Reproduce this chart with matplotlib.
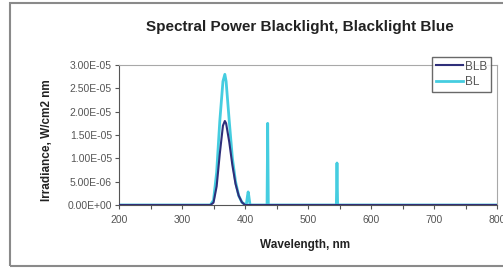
import matplotlib
matplotlib.use("Agg")
from matplotlib import pyplot as plt
from matplotlib.patches import Rectangle
from matplotlib.ticker import FuncFormatter, MultipleLocator

# === Data ===
blb_nm = [200, 345, 350, 355, 360, 365, 368, 370, 375, 380, 385, 390, 395, 400, 800]
blb_irr = [0, 0, 0.5e-6, 4e-6, 1.1e-5, 1.7e-5, 1.8e-5, 1.75e-5, 1.35e-5,
           8.5e-6, 4.5e-6, 2e-6, 6e-7, 0, 0]

bl_nm = [200, 345, 350, 355, 360, 365, 368, 370, 375, 380, 385, 390, 395, 400,
         402, 404, 405, 406, 408, 435, 436, 437, 545, 546, 547, 800]
bl_irr = [0, 0, 1e-6, 7e-6, 1.8e-5, 2.65e-5, 2.8e-5, 2.65e-5, 1.8e-5, 1.0e-5,
          5e-6, 2e-6, 6e-7, 1e-7, 0, 2e-6, 2.8e-6, 2e-6, 0, 0, 1.75e-5, 0,
          0, 9e-6, 0, 0]

x_labels = [200, 300, 400, 500, 600, 700, 800]

plt.rcParams['font.family'] = ['Liberation Sans', 'DejaVu Sans']

fig = plt.figure(figsize=(5.03, 2.69), dpi=100)
ax = fig.add_axes([119 / 503, 1 - 205 / 269, (497 - 119) / 503, (205 - 65) / 269])

# outer chart border
fig.patches.append(Rectangle((10 / 503, 3 / 269), 1.0, 263 / 269, transform=fig.transFigure,
                             fill=False, edgecolor="#8a8a8a", linewidth=1.5))

ax.plot(bl_nm, bl_irr, color="#45cde0", linewidth=2, label="BL", zorder=2)
ax.plot(blb_nm, blb_irr, color="#2f2f7a", linewidth=1.5, label="BLB", zorder=3)

ax.set_xlim(200, 800)
ax.set_ylim(0, 3e-5)
ax.xaxis.set_major_locator(MultipleLocator(50))
ax.xaxis.set_major_formatter(FuncFormatter(lambda v, p: f"{int(v)}" if int(v) in x_labels else ""))
ax.yaxis.set_major_locator(MultipleLocator(5e-6))
ax.yaxis.set_major_formatter(FuncFormatter(lambda v, p: f"{v:.2E}"))
ax.tick_params(axis="both", labelsize=7.5, labelcolor="#555555", color="#555555",
               length=3, width=0.8, pad=2)
ax.tick_params(axis="x", pad=4)

for side in ["top", "right"]:
    ax.spines[side].set_color("#a8a8a8")
for side in ["left", "bottom"]:
    ax.spines[side].set_color("#555555")

fig.text(300 / 503, 1 - 27 / 269, "Spectral Power Blacklight, Blacklight Blue",
         ha="center", va="center", fontsize=11, fontweight="bold", color="#222222")
fig.text(305 / 503, 1 - 245 / 269, "Wavelength, nm",
         ha="center", va="center", fontsize=8.5, fontweight="bold", color="#222222")
fig.text(47 / 503, 1 - 140 / 269, "Irradiance, W/cm2 nm", rotation=90,
         ha="center", va="center", fontsize=8.5, fontweight="bold", color="#222222")

handles, labels = ax.get_legend_handles_labels()
leg = ax.legend(handles[::-1], labels[::-1], loc="upper left",
                bbox_to_anchor=(432 / 503, 1 - 57 / 269), bbox_transform=fig.transFigure,
                fontsize=8.5, frameon=True, fancybox=False, handlelength=2.3,
                handletextpad=0.2, borderpad=0.3, labelspacing=0.3, borderaxespad=0)
leg.get_frame().set_edgecolor("#444444")
leg.get_frame().set_linewidth(1)
for t in leg.get_texts():
    t.set_color("#555555")

fig.savefig("out.png", dpi=100)
